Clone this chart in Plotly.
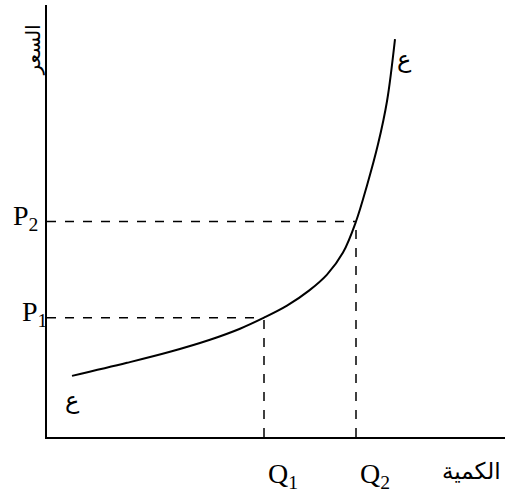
import plotly.graph_objects as go

# Supply curve (quantity, price) in chart units
curve_q = [25, 80, 123, 163, 193, 217, 240, 262, 280, 296, 309, 320, 331, 340, 348]
curve_p = [61, 74, 85, 97, 108, 119, 131, 146, 162, 184, 215, 251, 292, 335, 397]

# Marked equilibrium points
q_marks = [217, 309]
p_marks = [119, 215]
q_labels = ["Q<sub>1</sub>", "Q<sub>2</sub>"]
p_labels = ["P<sub>1</sub>", "P<sub>2</sub>"]

x_title = "الكمية"
y_title = "السعر"
curve_label = "ع"

X_MAX, Y_MAX = 458, 431

fig = go.Figure()
fig.add_trace(go.Scatter(x=curve_q, y=curve_p, mode="lines",
                         line=dict(color="black", width=2, shape="spline", smoothing=1.0),
                         hoverinfo="skip", showlegend=False))

for q, p in zip(q_marks, p_marks):
    fig.add_shape(type="line", x0=0, x1=q, y0=p, y1=p,
                  line=dict(color="black", width=1.5, dash="dash"))
    fig.add_shape(type="line", x0=q, x1=q, y0=0, y1=p,
                  line=dict(color="black", width=1.5, dash="dash"))

serif = dict(family="Liberation Serif, Times New Roman, serif", size=28, color="black")
arab = dict(family="DejaVu Sans, sans-serif", size=20, color="black")

xshifts = [2, -7]
for p, lab, xs in zip(p_marks, p_labels, xshifts):
    fig.add_annotation(x=0, y=p, text=lab, showarrow=False, xanchor="right",
                       yanchor="middle", xshift=xs, yshift=4, font=serif)
for q, lab in zip(q_marks, q_labels):
    fig.add_annotation(x=q, y=0, text=lab, showarrow=False, xanchor="left",
                       yanchor="middle", xshift=2, yshift=-38, font=serif)

fig.add_annotation(x=X_MAX, y=0, text=x_title, showarrow=False, xanchor="right",
                   yanchor="middle", xshift=-2, yshift=-34,
                   font=dict(family="DejaVu Sans, sans-serif", size=23, color="black"))
fig.add_annotation(x=0, y=Y_MAX, text=y_title, showarrow=False, xanchor="right",
                   yanchor="top", textangle=-90, xshift=-1, yshift=-18, font=arab)

fig.add_annotation(x=curve_q[-1], y=curve_p[-1], text=curve_label, showarrow=False,
                   xanchor="left", yanchor="middle", xshift=0, yshift=-20,
                   font=dict(family="DejaVu Sans, sans-serif", size=24, color="black"))
fig.add_annotation(x=curve_q[0], y=curve_p[0], text=curve_label, showarrow=False,
                   xanchor="center", yanchor="middle", xshift=0, yshift=-24,
                   font=dict(family="DejaVu Sans, sans-serif", size=24, color="black"))

axis_common = dict(showgrid=False, zeroline=False, showticklabels=False, ticks="",
                   showline=True, linecolor="black", linewidth=2, fixedrange=True)
fig.update_xaxes(range=[0, X_MAX], **axis_common)
fig.update_yaxes(range=[0, Y_MAX], **axis_common)

fig.update_layout(width=511, height=493, margin=dict(l=47, r=6, t=5, b=56),
                  plot_bgcolor="white", paper_bgcolor="white", showlegend=False)

fig.write_html("out.html", config={"displayModeBar": False},
               post_script="document.body.style.margin='0';")
